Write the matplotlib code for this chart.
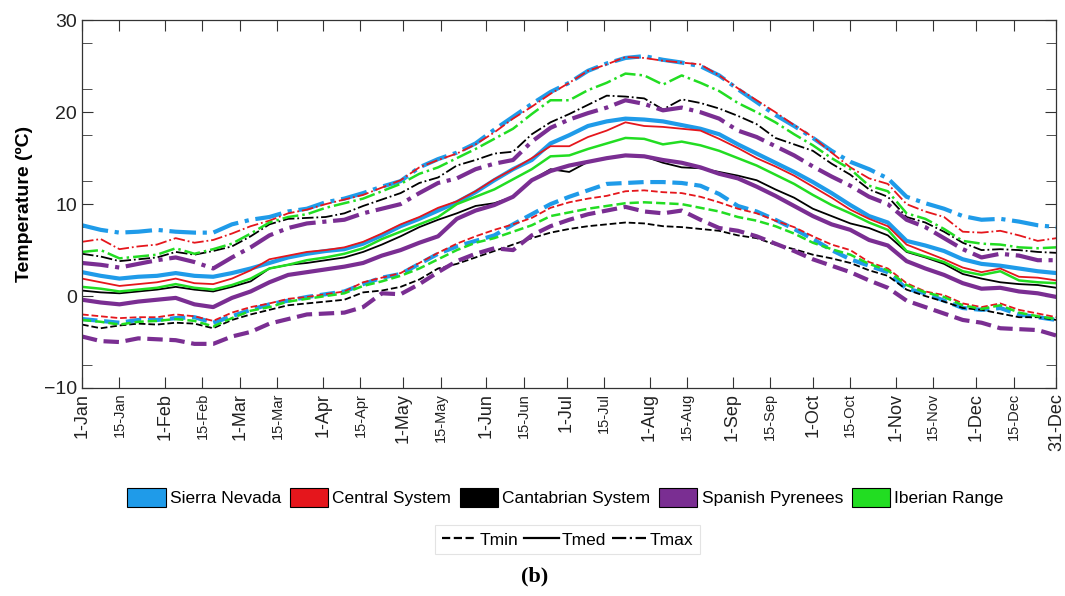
import matplotlib
matplotlib.use('Agg')
import matplotlib.pyplot as plt
from matplotlib.patches import Patch
from matplotlib.lines import Line2D

# day of year (0 = 1-Jan), sampled weekly
days = [0, 7, 14, 21, 28, 35, 42, 49, 56, 63, 70, 77, 84, 91, 98, 105, 112, 119, 126,
        133, 140, 147, 154, 161, 168, 175, 182, 189, 196, 203, 210, 217, 224, 231, 238,
        245, 252, 259, 266, 273, 280, 287, 294, 301, 308, 315, 322, 329, 336, 343, 350,
        357, 364]

# Sierra Nevada
sn_max = [7.7, 7.2, 6.9, 7.0, 7.2, 7.0, 6.9, 6.9, 7.8, 8.3, 8.6, 9.2, 9.5, 10.2, 10.6, 11.2,
          11.9, 12.5, 14.0, 14.9, 15.6, 16.6, 18.1, 19.5, 20.9, 22.2, 23.2, 24.5, 25.3, 25.9,
          26.1, 25.7, 25.4, 25.0, 24.0, 22.5, 21.1, 19.7, 18.5, 17.2, 15.8, 14.6, 13.8, 12.8,
          10.8, 10.1, 9.5, 8.7, 8.3, 8.4, 8.1, 7.7, 7.5]
sn_med = [2.6, 2.2, 1.9, 2.1, 2.2, 2.5, 2.2, 2.1, 2.5, 3.0, 3.6, 4.2, 4.6, 4.9, 5.1, 5.7,
          6.6, 7.6, 8.4, 9.3, 10.2, 11.3, 12.6, 13.8, 14.8, 16.6, 17.5, 18.5, 19.0, 19.3,
          19.2, 19.0, 18.6, 18.2, 17.6, 16.5, 15.5, 14.5, 13.5, 12.4, 11.2, 9.9, 8.7, 8.0,
          6.0, 5.5, 4.9, 4.0, 3.5, 3.3, 3.0, 2.7, 2.5]
sn_min = [-2.5, -2.7, -2.9, -2.6, -2.6, -2.4, -2.3, -2.9, -2.2, -1.5, -0.9, -0.5, -0.1, 0.2,
          0.5, 1.3, 2.0, 2.4, 3.5, 4.6, 5.4, 6.0, 6.6, 7.8, 8.9, 10.0, 10.8, 11.5, 12.2, 12.3,
          12.4, 12.4, 12.3, 12.0, 11.1, 9.8, 9.2, 8.3, 7.3, 6.2, 5.0, 4.0, 3.3, 2.6, 0.8, 0.3,
          -0.5, -1.3, -1.5, -1.3, -2.0, -2.3, -2.6]

# Central System
cs_max = [5.9, 6.2, 5.1, 5.4, 5.6, 6.3, 5.8, 6.1, 6.8, 7.6, 8.2, 9.0, 9.4, 10.0, 10.5, 11.0,
          11.8, 12.6, 14.0, 14.8, 15.5, 16.5, 17.8, 19.3, 20.6, 22.0, 23.2, 24.5, 25.2, 26.0,
          25.9, 25.6, 25.4, 25.2, 24.0, 22.6, 21.3, 20.0, 18.6, 17.3, 15.6, 14.0, 12.8, 12.2,
          10.0, 9.2, 8.6, 7.0, 6.9, 7.1, 6.6, 6.0, 6.3]
cs_med = [1.9, 1.5, 1.1, 1.3, 1.5, 1.9, 1.4, 1.3, 1.9, 2.8, 4.0, 4.4, 4.8, 5.0, 5.3, 5.9,
          6.8, 7.8, 8.6, 9.6, 10.3, 11.4, 12.7, 13.8, 15.0, 16.3, 16.3, 17.3, 18.0, 18.9,
          18.5, 18.4, 18.2, 18.0, 17.1, 16.1, 15.0, 14.1, 13.1, 11.9, 10.7, 9.4, 8.4, 7.6,
          5.6, 4.8, 4.0, 3.1, 2.6, 3.0, 2.1, 2.0, 1.7]
cs_min = [-2.0, -2.2, -2.4, -2.3, -2.3, -2.0, -2.2, -2.7, -1.8, -1.2, -0.8, -0.3, -0.1, 0.2,
          0.5, 1.5, 2.0, 2.5, 3.6, 4.7, 5.7, 6.5, 7.2, 7.8, 8.5, 9.6, 10.2, 10.6, 10.9, 11.4,
          11.5, 11.3, 11.2, 10.8, 10.2, 9.5, 9.0, 8.2, 7.5, 6.5, 5.6, 5.0, 3.7, 3.0, 1.4, 0.5,
          0.1, -0.8, -1.2, -0.8, -1.5, -1.9, -2.3]

# Cantabrian System
cas_max = [4.6, 4.3, 3.8, 4.0, 4.2, 4.8, 4.5, 4.9, 5.4, 6.5, 7.8, 8.4, 8.5, 8.6, 9.0, 9.8,
           10.5, 11.2, 12.3, 12.9, 14.2, 14.8, 15.5, 15.7, 17.6, 18.9, 19.8, 20.8, 21.8, 21.7,
           21.5, 20.3, 21.4, 21.0, 20.4, 19.6, 18.7, 17.2, 16.5, 15.8, 14.4, 13.2, 11.6, 10.8,
           8.6, 8.0, 7.0, 5.8, 5.0, 5.1, 5.0, 4.8, 4.7]
cas_med = [0.6, 0.4, 0.3, 0.5, 0.7, 1.0, 0.7, 0.5, 1.0, 1.6, 3.0, 3.4, 3.6, 3.9, 4.2, 4.8,
           5.6, 6.5, 7.5, 8.3, 9.0, 9.8, 10.1, 10.8, 12.6, 13.8, 13.5, 14.6, 15.0, 15.3,
           15.2, 14.5, 14.0, 13.9, 13.5, 13.1, 12.6, 11.6, 10.7, 9.5, 8.7, 7.9, 7.4, 6.6,
           4.8, 4.2, 3.5, 2.4, 1.9, 1.5, 1.3, 1.2, 0.9]
cas_min = [-3.1, -3.5, -3.2, -3.0, -3.1, -2.9, -3.0, -3.5, -2.6, -2.0, -1.5, -1.0, -0.8, -0.6,
           -0.4, 0.4, 0.6, 1.0, 1.8, 3.0, 3.5, 4.2, 4.9, 5.6, 6.3, 6.9, 7.3, 7.6, 7.8, 8.0,
           7.9, 7.6, 7.5, 7.3, 7.1, 6.6, 6.3, 5.6, 5.1, 4.5, 4.1, 3.6, 2.8, 2.2, 0.7, 0.0,
           -0.6, -1.3, -1.5, -1.9, -2.3, -2.3, -2.6]

# Spanish Pyrenees
sp_max = [3.6, 3.4, 3.1, 3.5, 3.9, 4.2, 3.7, 3.0, 4.2, 5.3, 6.6, 7.4, 7.9, 8.1, 8.3, 9.0,
          9.5, 10.0, 11.2, 12.3, 12.8, 13.8, 14.4, 14.8, 16.8, 18.3, 19.2, 19.9, 20.5, 21.3,
          20.9, 20.2, 20.5, 20.0, 19.3, 18.0, 17.3, 16.3, 15.3, 14.1, 13.0, 12.0, 10.8, 10.0,
          8.3, 7.5, 6.3, 5.1, 4.2, 4.6, 4.4, 3.9, 3.9]
sp_med = [-0.4, -0.7, -0.9, -0.6, -0.4, -0.2, -0.9, -1.2, -0.2, 0.5, 1.5, 2.3, 2.6, 2.9,
          3.2, 3.6, 4.4, 5.0, 5.8, 6.5, 8.4, 9.3, 9.9, 10.8, 12.6, 13.6, 14.2, 14.6, 15.0,
          15.3, 15.2, 14.8, 14.5, 14.0, 13.3, 12.8, 11.9, 10.9, 9.8, 8.7, 7.8, 7.2, 6.1, 5.5,
          3.8, 3.0, 2.3, 1.4, 0.8, 0.9, 0.5, 0.3, -0.1]
sp_min = [-4.4, -4.9, -5.0, -4.6, -4.7, -4.8, -5.2, -5.2, -4.4, -3.9, -3.0, -2.5, -2.0, -1.9,
          -1.8, -1.2, 0.3, 0.2, 1.3, 2.6, 3.8, 4.6, 5.2, 5.0, 6.6, 7.6, 8.3, 8.9, 9.3, 9.7,
          9.2, 9.0, 9.3, 8.3, 7.4, 7.1, 6.5, 5.7, 4.9, 4.0, 3.3, 2.6, 1.7, 0.9, -0.5, -1.2,
          -1.9, -2.6, -2.9, -3.5, -3.6, -3.7, -4.3]

# Iberian Range
ir_max = [4.8, 5.0, 4.1, 4.3, 4.5, 5.2, 4.6, 5.1, 5.7, 6.8, 8.0, 8.6, 8.9, 9.6, 10.1, 10.6,
          11.4, 12.2, 13.3, 14.0, 15.0, 16.0, 17.1, 18.2, 19.8, 21.3, 21.3, 22.4, 23.2, 24.2,
          24.0, 23.0, 24.0, 23.2, 22.3, 21.0, 20.0, 18.9, 17.6, 16.4, 15.0, 13.8, 12.0, 11.4,
          9.0, 8.4, 7.3, 6.0, 5.7, 5.6, 5.3, 5.2, 5.3]
ir_med = [1.0, 0.8, 0.5, 0.7, 0.9, 1.3, 0.9, 0.7, 1.2, 1.9, 3.0, 3.4, 3.9, 4.2, 4.6, 5.2,
          6.2, 7.0, 7.8, 8.6, 10.0, 10.8, 11.6, 12.7, 13.8, 15.2, 15.3, 16.0, 16.6, 17.2,
          17.1, 16.5, 16.8, 16.4, 15.8, 15.0, 14.2, 13.2, 12.2, 11.0, 9.9, 9.0, 8.0, 7.2,
          4.9, 4.3, 3.7, 2.7, 2.3, 2.7, 1.7, 1.5, 1.4]
ir_min = [-2.6, -2.8, -3.1, -2.8, -2.7, -2.5, -2.7, -3.3, -2.4, -1.6, -1.2, -0.6, -0.3, 0.0,
          0.3, 1.1, 1.6, 2.2, 3.0, 4.0, 5.0, 5.8, 6.3, 7.0, 7.7, 8.7, 9.1, 9.5, 9.8, 10.1,
          10.2, 10.1, 10.0, 9.6, 9.2, 8.6, 8.2, 7.6, 6.8, 5.8, 5.1, 4.5, 3.5, 2.8, 1.2, 0.4,
          -0.1, -1.0, -1.4, -1.0, -1.8, -2.2, -2.5]

regions = ['Sierra Nevada', 'Central System', 'Cantabrian System', 'Spanish Pyrenees', 'Iberian Range']
tick_days = [0, 14, 31, 45, 59, 73, 90, 104, 120, 134, 151, 165, 181, 195, 212, 226, 243,
             257, 273, 287, 304, 318, 334, 348, 364]
tick_labels = ['1-Jan', '15-Jan', '1-Feb', '15-Feb', '1-Mar', '15-Mar', '1-Apr', '15-Apr',
               '1-May', '15-May', '1-Jun', '15-Jun', '1-Jul', '15-Jul', '1-Aug', '15-Aug',
               '1-Sep', '15-Sep', '1-Oct', '15-Oct', '1-Nov', '15-Nov', '1-Dec', '15-Dec',
               '31-Dec']

series = {
    'Sierra Nevada': (sn_min, sn_med, sn_max),
    'Central System': (cs_min, cs_med, cs_max),
    'Cantabrian System': (cas_min, cas_med, cas_max),
    'Spanish Pyrenees': (sp_min, sp_med, sp_max),
    'Iberian Range': (ir_min, ir_med, ir_max),
}
colors = {'Sierra Nevada': '#1f9be9', 'Central System': '#e5161c', 'Cantabrian System': '#000000',
          'Spanish Pyrenees': '#7a2e92', 'Iberian Range': '#22dd22'}
widths = {'Sierra Nevada': 3.0, 'Central System': 1.3, 'Cantabrian System': 1.3,
          'Spanish Pyrenees': 3.0, 'Iberian Range': 1.8}

plt.rcParams['font.family'] = ['Liberation Sans', 'DejaVu Sans']

fig = plt.figure(figsize=(10.65, 5.96), dpi=100)
ax = fig.add_axes([0.077, 0.349, 0.915, 0.617])

styles = ['--', '-', '-.']
for name in regions:
    for vals, ls in zip(series[name], styles):
        ax.plot(days, vals, color=colors[name], lw=widths[name], ls=ls)

ax.set_xlim(0, 364)
ax.set_ylim(-10, 30)
ax.set_yticks([-10, 0, 10, 20, 30])
ax.set_yticks([-7.5, -2.5, 2.5, 7.5, 12.5, 17.5, 22.5, 27.5], minor=True)
ax.set_xticks(tick_days)
ax.set_xticklabels(tick_labels, rotation=90)
for lab in ax.get_xticklabels():
    lab.set_fontsize(10.5 if lab.get_text().startswith('15') else 13)
ax.tick_params(axis='y', labelsize=14)
ax.tick_params(which='both', direction='in', top=True, right=True, length=8,
               color='#333333', labelcolor='#222222')
ax.tick_params(which='minor', length=7)
for sp in ax.spines.values():
    sp.set_color('#333333')
    sp.set_linewidth(0.9)

ax.set_ylabel('Temperature (ºC)', fontsize=14, fontweight='bold')
ax.yaxis.set_label_coords(-0.050, 0.5)

reg_handles = [Patch(facecolor=colors[n], edgecolor='black', lw=0.8) for n in regions]
fig.legend(reg_handles, regions, loc='center', bbox_to_anchor=(0.531, 0.166), ncol=5,
           frameon=False, fontsize=12.5, handlelength=2.2, handleheight=1.3,
           handletextpad=0.25, columnspacing=0.5, borderaxespad=0)

type_handles = [Line2D([], [], color='black', lw=1.6, ls=s) for s in styles]
leg2 = fig.legend(type_handles, ['Tmin', 'Tmed', 'Tmax'], loc='center',
                  bbox_to_anchor=(0.533, 0.094), ncol=3, fontsize=12.5, handlelength=2.0,
                  handletextpad=0.2, columnspacing=0.3, fancybox=False, borderpad=0.4)
leg2.get_frame().set_edgecolor('#dddddd')
leg2.get_frame().set_linewidth(0.8)

fig.text(0.502, 0.032, '(b)', ha='center', va='center', fontsize=16, fontweight='bold',
         family=['Liberation Serif', 'DejaVu Serif'])

fig.savefig('out.png', dpi=100)
